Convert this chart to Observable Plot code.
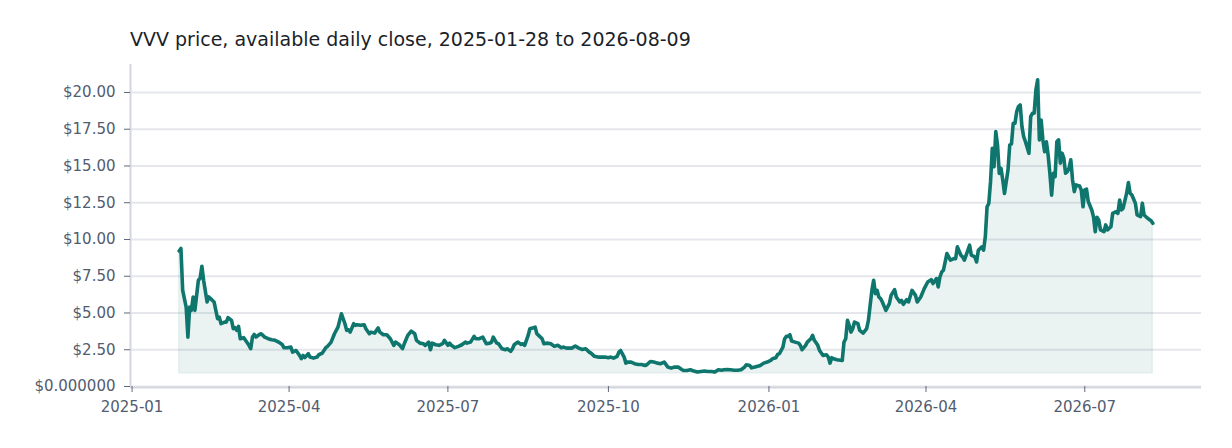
<!DOCTYPE html>
<html><head><meta charset="utf-8">
<script src="https://cdn.jsdelivr.net/npm/d3@7"></script>
<script src="https://cdn.jsdelivr.net/npm/@observablehq/plot@0.6"></script>
<style>
body{margin:0;background:#fff;font-family:"DejaVu Sans",sans-serif;}
#title{height:56px;box-sizing:border-box;padding:29px 0 0 130px;font-size:19px;line-height:21px;color:#1b1f2a;white-space:nowrap;}
#chart svg{display:block;}
</style></head><body>
<div id="title">VVV price, available daily close, 2025-01-28 to 2026-08-09</div>
<div id="chart"></div>
<script>
const dates = [
"2025-01-28","2025-01-29","2025-01-30","2025-02-01","2025-02-02","2025-02-03","2025-02-04","2025-02-05","2025-02-06","2025-02-08",
"2025-02-09","2025-02-10","2025-02-11","2025-02-13","2025-02-14","2025-02-15","2025-02-17","2025-02-18","2025-02-19","2025-02-20",
"2025-02-21","2025-02-23","2025-02-24","2025-02-25","2025-02-27","2025-02-28","2025-03-01","2025-03-02","2025-03-03","2025-03-04",
"2025-03-06","2025-03-07","2025-03-09","2025-03-10","2025-03-11","2025-03-12","2025-03-13","2025-03-15","2025-03-16","2025-03-18",
"2025-03-20","2025-03-22","2025-03-24","2025-03-26","2025-03-28","2025-03-29","2025-03-31","2025-04-02","2025-04-03","2025-04-05",
"2025-04-07","2025-04-08","2025-04-09","2025-04-10","2025-04-12","2025-04-13","2025-04-15","2025-04-17","2025-04-18","2025-04-20",
"2025-04-22","2025-04-23","2025-04-25","2025-04-27","2025-04-29","2025-04-30","2025-05-01","2025-05-03","2025-05-04","2025-05-05",
"2025-05-06","2025-05-08","2025-05-09","2025-05-10","2025-05-12","2025-05-14","2025-05-15","2025-05-17","2025-05-18","2025-05-20",
"2025-05-22","2025-05-23","2025-05-25","2025-05-27","2025-05-29","2025-05-31","2025-06-01","2025-06-03","2025-06-05","2025-06-06",
"2025-06-08","2025-06-10","2025-06-12","2025-06-13","2025-06-15","2025-06-17","2025-06-18","2025-06-20","2025-06-21","2025-06-22",
"2025-06-24","2025-06-26","2025-06-28","2025-06-29","2025-07-01","2025-07-02","2025-07-03","2025-07-05","2025-07-07","2025-07-09",
"2025-07-11","2025-07-12","2025-07-14","2025-07-16","2025-07-17","2025-07-19","2025-07-21","2025-07-23","2025-07-25","2025-07-26",
"2025-07-27","2025-07-29","2025-07-30","2025-08-01","2025-08-03","2025-08-04","2025-08-06","2025-08-07","2025-08-08","2025-08-10",
"2025-08-12","2025-08-13","2025-08-14","2025-08-16","2025-08-17","2025-08-19","2025-08-20","2025-08-21","2025-08-22","2025-08-24",
"2025-08-25","2025-08-27","2025-08-29","2025-08-31","2025-09-02","2025-09-04","2025-09-05","2025-09-07","2025-09-10","2025-09-12",
"2025-09-14","2025-09-16","2025-09-18","2025-09-20","2025-09-21","2025-09-23","2025-09-25","2025-09-27","2025-09-29","2025-10-01",
"2025-10-02","2025-10-04","2025-10-06","2025-10-07","2025-10-08","2025-10-10","2025-10-11","2025-10-12","2025-10-14","2025-10-16",
"2025-10-18","2025-10-20","2025-10-22","2025-10-23","2025-10-25","2025-10-27","2025-10-29","2025-10-31","2025-11-02","2025-11-04",
"2025-11-06","2025-11-08","2025-11-10","2025-11-12","2025-11-13","2025-11-15","2025-11-17","2025-11-19","2025-11-21","2025-11-23",
"2025-11-25","2025-11-27","2025-11-29","2025-12-01","2025-12-03","2025-12-05","2025-12-06","2025-12-08","2025-12-10","2025-12-12",
"2025-12-14","2025-12-16","2025-12-18","2025-12-19","2025-12-21","2025-12-22","2025-12-24","2025-12-26","2025-12-27","2025-12-29",
"2025-12-31","2026-01-02","2026-01-03","2026-01-05","2026-01-06","2026-01-07","2026-01-09","2026-01-10","2026-01-11","2026-01-12",
"2026-01-13","2026-01-14","2026-01-16","2026-01-18","2026-01-19","2026-01-20","2026-01-22","2026-01-23","2026-01-25","2026-01-26",
"2026-01-27","2026-01-29","2026-01-30","2026-02-01","2026-02-03","2026-02-04","2026-02-05","2026-02-06","2026-02-07","2026-02-09",
"2026-02-12","2026-02-13","2026-02-14","2026-02-15","2026-02-16","2026-02-17","2026-02-18","2026-02-19","2026-02-21","2026-02-22",
"2026-02-24","2026-02-26","2026-02-27","2026-02-28","2026-03-01","2026-03-02","2026-03-03","2026-03-04","2026-03-05","2026-03-06",
"2026-03-07","2026-03-09","2026-03-11","2026-03-12","2026-03-14","2026-03-15","2026-03-17","2026-03-18","2026-03-19","2026-03-21",
"2026-03-22","2026-03-24","2026-03-26","2026-03-27","2026-03-29","2026-03-31","2026-04-02","2026-04-04","2026-04-05","2026-04-07",
"2026-04-08","2026-04-09","2026-04-10","2026-04-11","2026-04-12","2026-04-13","2026-04-14","2026-04-15","2026-04-17","2026-04-18",
"2026-04-19","2026-04-21","2026-04-22","2026-04-23","2026-04-25","2026-04-26","2026-04-27","2026-04-29","2026-04-30","2026-05-01",
"2026-05-03","2026-05-04","2026-05-05","2026-05-06","2026-05-07","2026-05-08","2026-05-09","2026-05-10","2026-05-11","2026-05-12",
"2026-05-13","2026-05-14","2026-05-15","2026-05-16","2026-05-18","2026-05-19","2026-05-20","2026-05-21","2026-05-22","2026-05-23",
"2026-05-24","2026-05-25","2026-05-26","2026-05-27","2026-05-28","2026-05-30","2026-05-31","2026-06-01","2026-06-02","2026-06-03",
"2026-06-04","2026-06-05","2026-06-06","2026-06-07","2026-06-08","2026-06-09","2026-06-10","2026-06-11","2026-06-12","2026-06-13",
"2026-06-14","2026-06-15","2026-06-16","2026-06-17","2026-06-18","2026-06-19","2026-06-20","2026-06-21","2026-06-22","2026-06-23",
"2026-06-24","2026-06-25","2026-06-26","2026-06-28","2026-06-29","2026-06-30","2026-07-01","2026-07-02","2026-07-03","2026-07-05",
"2026-07-06","2026-07-07","2026-07-08","2026-07-09","2026-07-10","2026-07-12","2026-07-13","2026-07-14","2026-07-16","2026-07-17",
"2026-07-19","2026-07-20","2026-07-21","2026-07-22","2026-07-23","2026-07-25","2026-07-26","2026-07-27","2026-07-28","2026-07-30",
"2026-07-31","2026-08-02","2026-08-03","2026-08-04","2026-08-06","2026-08-08","2026-08-09"
];
const closes = [
9.22,9.39,6.54,5.4,3.36,5.4,5.18,6.09,5.18,7.23,
7.36,8.18,7.23,5.75,6.09,5.98,5.75,5.18,4.61,4.72,
4.27,4.38,4.38,4.68,4.5,3.93,4.0,3.82,4.09,3.25,
3.32,3.14,2.8,2.57,3.36,3.54,3.36,3.54,3.59,3.36,
3.25,3.18,3.14,3.02,2.86,2.64,2.64,2.68,2.34,2.45,
2.11,1.89,2.11,1.96,2.23,2.0,1.93,2.0,2.16,2.27,
2.64,2.73,3.0,3.59,4.04,4.5,4.95,4.27,3.82,3.86,
3.7,4.27,4.16,4.2,4.16,4.2,3.93,3.59,3.7,3.63,
3.98,3.7,3.52,3.52,3.25,2.8,3.02,2.86,2.57,2.91,
3.48,3.77,3.59,3.14,2.95,2.91,2.8,3.02,2.5,2.95,
2.84,2.8,2.91,3.14,2.8,2.95,2.8,2.64,2.73,2.84,
3.02,2.95,3.02,3.41,3.25,3.25,3.36,2.91,2.95,3.02,
3.36,2.95,2.91,2.57,2.5,2.57,2.39,2.57,2.84,3.02,
2.86,2.91,2.8,3.48,3.93,4.0,4.04,3.59,3.48,3.25,
2.91,2.95,2.91,2.73,2.8,2.64,2.68,2.61,2.61,2.75,
2.61,2.52,2.57,2.34,2.27,2.05,2.0,2.0,2.0,1.96,
2.0,1.93,2.05,2.34,2.45,2.0,1.59,1.66,1.66,1.55,
1.5,1.5,1.43,1.48,1.7,1.66,1.59,1.55,1.66,1.32,
1.25,1.32,1.32,1.16,1.09,1.09,1.14,1.05,0.98,1.02,
1.05,1.02,1.02,0.98,1.14,1.11,1.14,1.16,1.14,1.11,
1.11,1.14,1.32,1.48,1.43,1.27,1.32,1.39,1.43,1.59,
1.66,1.77,1.89,1.96,2.18,2.23,2.68,3.25,3.41,3.41,
3.52,3.09,3.02,2.95,2.8,2.5,2.8,3.02,3.25,3.48,
3.14,2.8,2.45,2.11,2.16,2.0,1.59,1.96,1.89,1.82,
1.77,3.02,3.25,4.5,4.16,3.7,3.93,4.38,4.27,3.82,
3.63,3.93,4.5,5.52,6.54,7.23,6.32,6.54,6.09,5.98,
5.75,5.18,5.64,6.2,6.59,6.09,5.75,5.86,5.59,5.91,
5.75,6.54,6.2,5.75,6.09,6.66,7.11,7.27,7.0,7.34,
6.77,7.45,7.79,7.91,8.47,9.05,8.82,8.59,8.7,8.7,
9.5,8.93,8.82,8.59,9.27,9.61,8.93,8.82,8.47,9.27,
9.5,9.27,10.18,12.22,12.45,13.93,16.2,14.95,17.34,16.43,
14.5,14.84,14.04,13.13,14.72,16.43,16.5,17.91,17.91,18.7,
19.04,19.15,17.68,17.0,16.65,15.86,18.36,18.59,18.59,20.18,
20.86,16.77,18.13,16.77,15.97,16.65,15.75,14.5,13.02,14.5,
14.27,16.65,16.78,15.19,15.87,15.53,14.51,14.62,14.85,15.42,
14.05,13.26,13.71,13.64,13.37,12.23,13.37,13.42,12.58,12.01,
11.55,10.53,11.51,11.33,10.65,10.53,10.99,10.65,10.87,11.78,
11.89,11.78,12.69,12.01,12.13,13.15,13.87,13.15,13.03,12.47,
11.67,11.55,12.47,11.67,11.44,11.28,11.1
];
const yTicks = [0, 2.5, 5, 7.5, 10, 12.5, 15, 17.5, 20];
const xTicks = ["2025-01-01","2025-04-01","2025-07-01","2025-10-01","2026-01-01","2026-04-01","2026-07-01"];

const teal = "#0f766e";
const data = dates.map((d, i) => ({date: new Date(d + "T00:00:00Z"), close: closes[i]}));
const t0 = data[0].date, t1 = data[data.length - 1].date;
const pad = (t1 - t0) * 0.05;
const xDomain = [new Date(+t0 - pad), new Date(+t1 + pad)];
const yMax = d3.max(closes) * 1.05;
const base = d3.min(closes) * 0.9;
const fmtY = d => d === 0 ? "$0.000000" : "$" + d.toFixed(2);
const fmtX = d3.utcFormat("%Y-%m");
const textColor = "#525c6f";

const chart = Plot.plot({
  width: 1232,
  height: 392,
  marginLeft: 130,
  marginRight: 31,
  marginTop: 8,
  marginBottom: 62,
  style: {fontFamily: "DejaVu Sans, sans-serif", fontSize: "15px", background: "#fff"},
  x: {type: "utc", domain: xDomain},
  y: {domain: [0, yMax]},
  marks: [
    Plot.gridY(yTicks, {stroke: "#e6e7ec", strokeOpacity: 1, strokeWidth: 2}),
    Plot.areaY(data, {x: "date", y1: () => base, y2: "close", fill: teal, fillOpacity: 0.085, stroke: teal, strokeOpacity: 0.07, strokeWidth: 1.5}),
    Plot.lineY(data, {x: "date", y: "close", stroke: teal, strokeWidth: 3.6, strokeLinejoin: "round", strokeLinecap: "round"}),
    Plot.ruleX([xDomain[0]], {stroke: "#d3d6de", strokeWidth: 2}),
    Plot.ruleY([0], {stroke: "#d3d6de", strokeWidth: 2, dy: 1}),
    Plot.axisY(yTicks, {tickFormat: fmtY, tickSize: 6, tickPadding: 9, stroke: "#5f6778", fill: textColor, fontSize: 15, label: null}),
    Plot.axisX(xTicks.map(s => new Date(s + "T00:00:00Z")), {tickFormat: fmtX, tickSize: 6, tickPadding: 9, stroke: "#5f6778", fill: textColor, fontSize: 15, label: null})
  ]
});
document.getElementById("chart").appendChild(chart);
</script>
</body></html>
